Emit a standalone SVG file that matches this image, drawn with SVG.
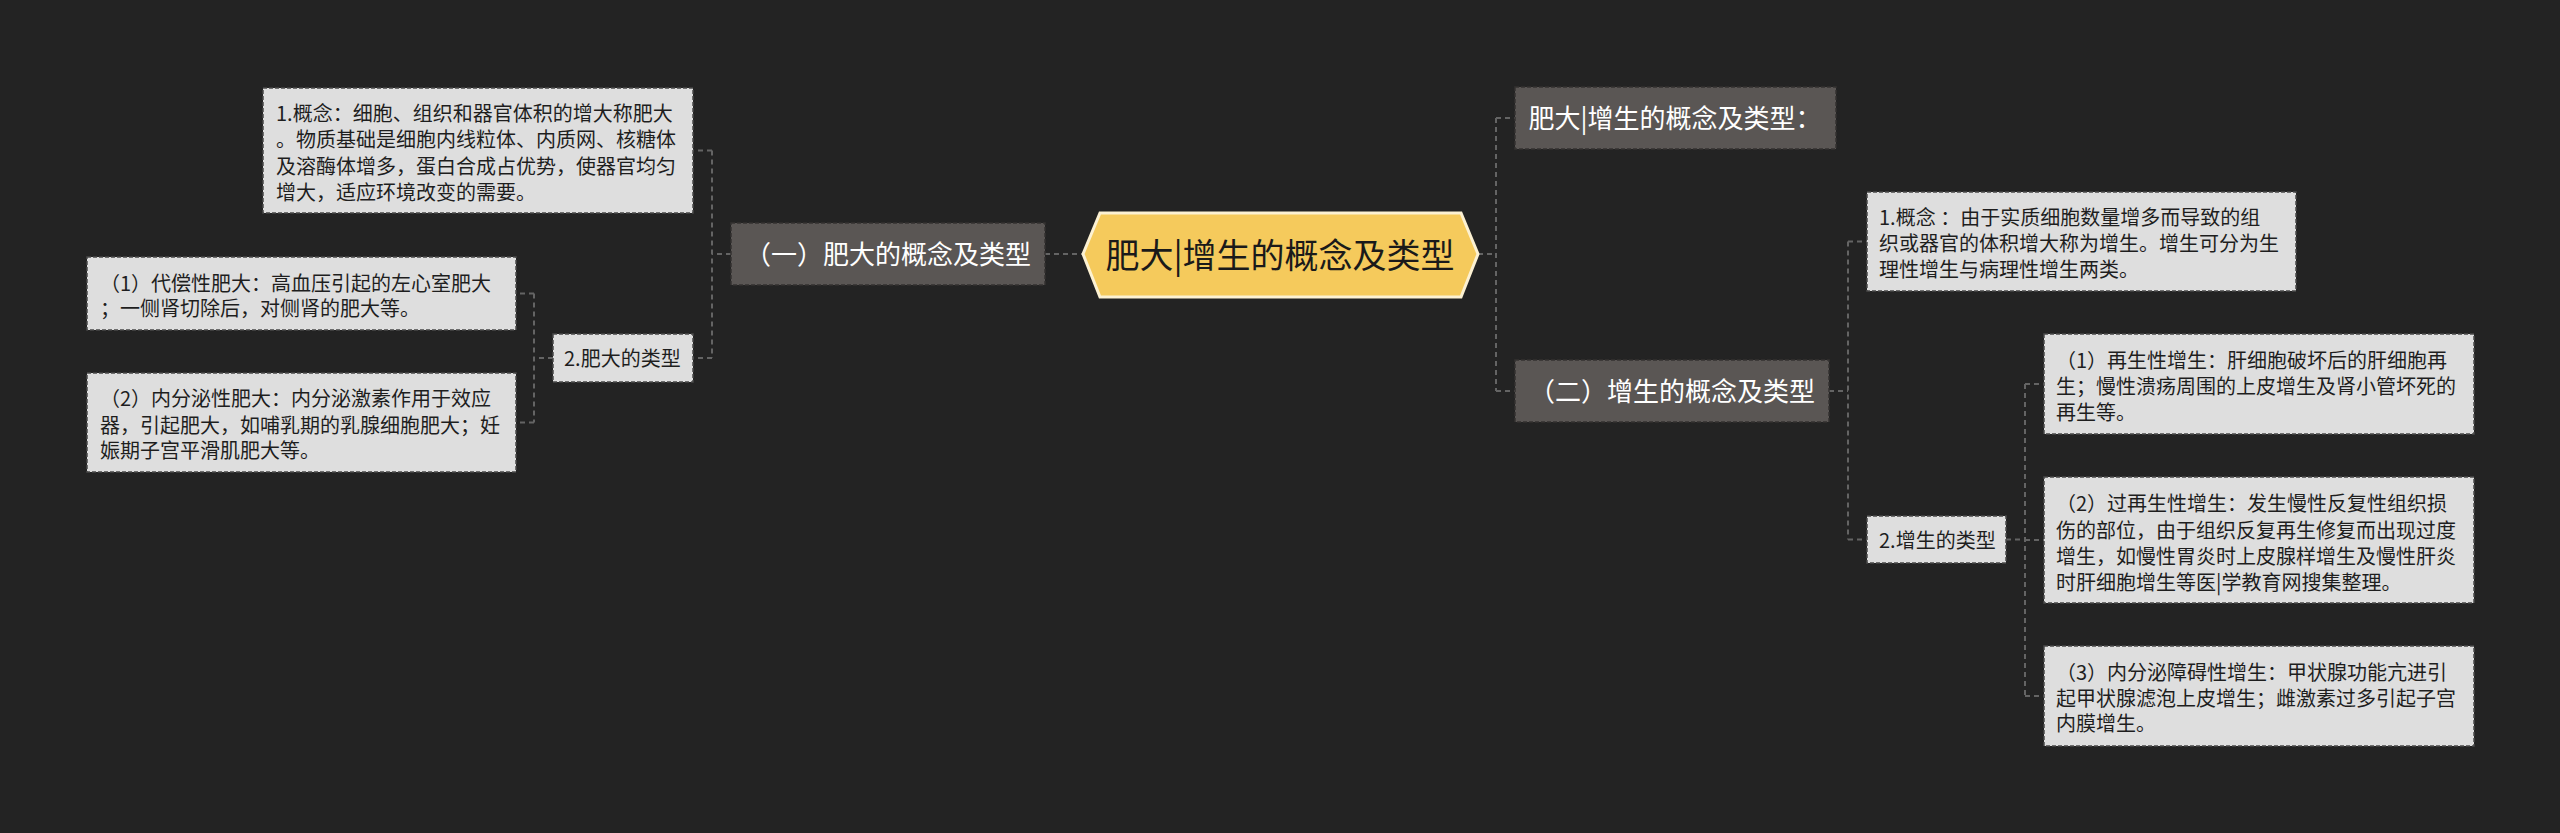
<svg xmlns="http://www.w3.org/2000/svg" width="2560" height="833" viewBox="0 0 2560 833">
<style>
.bg{fill:#232323}
.lt{fill:#dedede;stroke:#4a4a4a;stroke-width:1.5;stroke-dasharray:4 2}
.dk{fill:#5a5654;stroke:#343231;stroke-width:1.5;stroke-dasharray:4 2}
.ctr{fill:#f5ca5c;stroke:#fcf1d2;stroke-width:3}
.ln{fill:none;stroke:#646464;stroke-width:2;stroke-dasharray:5 4}
.tl{font-family:"Noto Sans CJK SC","Noto Sans",sans-serif;font-size:20px;fill:#1e1e1e}
.td{font-family:"Noto Sans CJK SC","Noto Sans",sans-serif;font-size:26px;fill:#ffffff;text-anchor:middle}
.tc{font-family:"Noto Sans CJK SC","Noto Sans",sans-serif;font-size:34px;fill:#1a1a1a;text-anchor:middle}
</style>
<rect class="bg" x="0" y="0" width="2560" height="833"/>
<g id="connectors">
<path class="ln" d="M1045 254H1083"/>
<path class="ln" d="M731 254H712M712 150.5V358M712 150.5H693M712 358H693"/>
<path class="ln" d="M553 358H534M534 293.5V422.5M534 293.5H516M534 422.5H516"/>
<path class="ln" d="M1478 254H1496M1496 118V391M1496 118H1515M1496 391H1515"/>
<path class="ln" d="M1829 391H1848M1848 241.5V539.5M1848 241.5H1867M1848 539.5H1867"/>
<path class="ln" d="M2006 539.5H2025M2025 384V696M2025 384H2044M2025 540H2044M2025 696H2044"/>
</g>
<g id="center">
<polygon class="ctr" points="1083,254 1100,213 1461,213 1478,254 1461,297 1100,297"/>
<text class="tc" x="1280" y="268">肥大|增生的概念及类型</text>
</g>
<g id="n-feida">
<rect class="dk" x="731" y="223" width="314" height="62"/>
<text class="td" x="888" y="264">（一）肥大的概念及类型</text>
</g>
<g id="n-title">
<rect class="dk" x="1515" y="87" width="321" height="62"/>
<text class="td" x="1675" y="128">肥大|增生的概念及类型：</text>
</g>
<g id="n-zengsheng">
<rect class="dk" x="1515" y="360" width="314" height="62"/>
<text class="td" x="1672" y="401">（二）增生的概念及类型</text>
</g>
<g id="a-concept">
<rect class="lt" x="263" y="88" width="430" height="125"/>
<text class="tl"><tspan x="276" y="120.5">1.概念：细胞、组织和器官体积的增大称肥大</tspan><tspan x="276" y="147">。物质基础是细胞内线粒体、内质网、核糖体</tspan><tspan x="276" y="173.5">及溶酶体增多，蛋白合成占优势，使器官均匀</tspan><tspan x="276" y="200">增大，适应环境改变的需要。</tspan></text>
</g>
<g id="a-types">
<rect class="lt" x="553" y="334" width="140" height="48"/>
<text class="tl" x="564" y="366">2.肥大的类型</text>
</g>
<g id="a-type1">
<rect class="lt" x="87" y="257" width="429" height="73"/>
<text class="tl"><tspan x="100" y="290.5">（1）代偿性肥大：高血压引起的左心室肥大</tspan><tspan x="100" y="316">；一侧肾切除后，对侧肾的肥大等。</tspan></text>
</g>
<g id="a-type2">
<rect class="lt" x="87" y="373" width="429" height="99"/>
<text class="tl"><tspan x="100" y="406">（2）内分泌性肥大：内分泌激素作用于效应</tspan><tspan x="100" y="432.5">器，引起肥大，如哺乳期的乳腺细胞肥大；妊</tspan><tspan x="100" y="458">娠期子宫平滑肌肥大等。</tspan></text>
</g>
<g id="b-concept">
<rect class="lt" x="1867" y="192" width="429" height="99"/>
<text class="tl"><tspan x="1879" y="224.5">1.概念 ：由于实质细胞数量增多而导致的组</tspan><tspan x="1879" y="251">织或器官的体积增大称为增生。增生可分为生</tspan><tspan x="1879" y="277">理性增生与病理性增生两类。</tspan></text>
</g>
<g id="b-types">
<rect class="lt" x="1867" y="516" width="139" height="47"/>
<text class="tl" x="1879" y="547.5">2.增生的类型</text>
</g>
<g id="b-type1">
<rect class="lt" x="2044" y="334" width="430" height="100"/>
<text class="tl"><tspan x="2056" y="367.5">（1）再生性增生：肝细胞破坏后的肝细胞再</tspan><tspan x="2056" y="394">生；慢性溃疡周围的上皮增生及肾小管坏死的</tspan><tspan x="2056" y="420">再生等。</tspan></text>
</g>
<g id="b-type2">
<rect class="lt" x="2044" y="477" width="430" height="126"/>
<text class="tl"><tspan x="2056" y="510.5">（2）过再生性增生：发生慢性反复性组织损</tspan><tspan x="2056" y="537.5">伤的部位，由于组织反复再生修复而出现过度</tspan><tspan x="2056" y="563.5">增生，如慢性胃炎时上皮腺样增生及慢性肝炎</tspan><tspan x="2056" y="589.5">时肝细胞增生等医|学教育网搜集整理。</tspan></text>
</g>
<g id="b-type3">
<rect class="lt" x="2044" y="646" width="430" height="100"/>
<text class="tl"><tspan x="2056" y="679.5">（3）内分泌障碍性增生：甲状腺功能亢进引</tspan><tspan x="2056" y="705.5">起甲状腺滤泡上皮增生；雌激素过多引起子宫</tspan><tspan x="2056" y="731">内膜增生。</tspan></text>
</g>
</svg>
